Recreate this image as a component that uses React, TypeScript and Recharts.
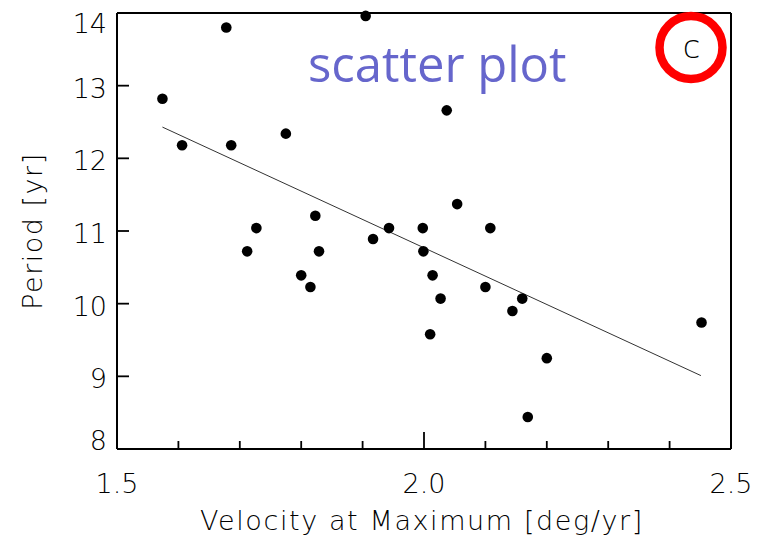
import React from 'react';
import { ScatterChart, Scatter, XAxis, YAxis, Label } from 'recharts';

// velocity at maximum [deg/yr] and period [yr] for each cycle
const velocity = [
  1.574, 1.606, 1.678, 1.686, 1.775, 1.905, 1.823, 1.727, 1.712, 1.829, 1.917, 1.8, 1.815, 2.037,
  2.054, 1.943, 1.998, 2.108, 1.999, 2.014, 2.027, 2.1, 2.16, 2.144, 2.01, 2.2, 2.169, 2.452,
];
const period = [
  12.82, 12.18, 13.8, 12.18, 12.34, 13.96, 11.21, 11.04, 10.72, 10.72, 10.89, 10.39, 10.23, 12.66,
  11.37, 11.04, 11.04, 11.04, 10.72, 10.39, 10.07, 10.23, 10.07, 9.9, 9.58, 9.25, 8.44, 9.74,
];

// least-squares fit line end points
const fitVelocity = [1.574, 2.451];
const fitPeriod = [12.43, 9.01];

const xTicks = [1.5, 1.6, 1.7, 1.8, 1.9, 2.0, 2.1, 2.2, 2.3, 2.4, 2.5];
const xLabelled = [1.5, 2.0, 2.5];
const yTicks = [8, 9, 10, 11, 12, 13, 14];

const points = velocity.map((v, i) => ({ v, p: period[i] }));
const fit = fitVelocity.map((v, i) => ({ v, p: fitPeriod[i] }));

const FONT = '"DejaVu Sans", sans-serif';
const INK = '#000';

const isMajor = (v: number) => xLabelled.some((m) => Math.abs(m - v) < 1e-6);

function BottomTick({ x, y, payload }: any) {
  const major = isMajor(payload.value);
  return (
    <g>
      <line x1={x} x2={x} y1={y} y2={y - (major ? 17 : 8)} stroke={INK} strokeWidth={1.8} />
      {major && (
        <text x={x} y={y + 44} textAnchor="middle" fontFamily={FONT} fontWeight={300} fontSize={27} fill={INK}>
          {Number(payload.value).toFixed(1)}
        </text>
      )}
    </g>
  );
}

function TopTick({ x, y, payload }: any) {
  const major = isMajor(payload.value);
  return <line x1={x} x2={x} y1={y} y2={y + (major ? 17 : 8)} stroke={INK} strokeWidth={1.8} />;
}

function LeftTick({ x, y, payload }: any) {
  const v = payload.value;
  // end labels are pulled inside the frame
  const dy = v === 14 ? 20 : v === 8 ? 1 : 12;
  return (
    <g>
      <line x1={x} x2={x + 12} y1={y} y2={y} stroke={INK} strokeWidth={1.8} />
      <text x={x - 10} y={y + dy} textAnchor="end" fontFamily={FONT} fontWeight={300} fontSize={27} fill={INK}>
        {v}
      </text>
    </g>
  );
}

function RightTick({ x, y }: any) {
  return <line x1={x} x2={x - 12} y1={y} y2={y} stroke={INK} strokeWidth={1.8} />;
}

const Dot = (p: any) => <circle cx={p.cx} cy={p.cy} r={5.3} fill={INK} />;
const NoDot = () => <g />;

export default function App() {
  return (
    <div style={{ position: 'absolute', left: 0, top: 0, width: 758, height: 540, background: '#fff' }}>
      <ScatterChart width={758} height={540} margin={{ top: 12, right: 26, bottom: 0, left: 0 }}>
        <XAxis
          dataKey="v"
          type="number"
          domain={[1.5, 2.5]}
          ticks={xTicks}
          interval={0}
          height={91}
          tickSize={0}
          tickMargin={0}
          tickLine={false}
          axisLine={{ stroke: INK, strokeWidth: 2 }}
          tick={(p: any) => <BottomTick {...p} />}
        >
          <Label
            content={(props: any) => {
              const vb = props.viewBox;
              return (
                <text
                  x={vb.x + vb.width / 2 - 2}
                  y={530}
                  textAnchor="middle"
                  fontFamily={FONT}
                  fontWeight={300}
                  fontSize={27}
                  letterSpacing={1.6}
                  fill={INK}
                >
                  Velocity at Maximum [deg/yr]
                </text>
              );
            }}
          />
        </XAxis>
        <XAxis
          xAxisId="top"
          orientation="top"
          dataKey="v"
          type="number"
          domain={[1.5, 2.5]}
          ticks={xTicks}
          interval={0}
          height={1}
          tickSize={0}
          tickMargin={0}
          tickLine={false}
          axisLine={{ stroke: INK, strokeWidth: 2 }}
          tick={(p: any) => <TopTick {...p} />}
        />
        <YAxis
          dataKey="p"
          type="number"
          domain={[8, 14]}
          ticks={yTicks}
          interval={0}
          width={117}
          tickSize={0}
          tickMargin={0}
          tickLine={false}
          axisLine={{ stroke: INK, strokeWidth: 2 }}
          tick={(p: any) => <LeftTick {...p} />}
        >
          <Label
            content={(props: any) => {
              const vb = props.viewBox;
              const cy = vb.y + vb.height / 2;
              return (
                <text
                  x={42}
                  y={cy}
                  transform={`rotate(-90, 42, ${cy})`}
                  textAnchor="middle"
                  fontFamily={FONT}
                  fontWeight={300}
                  fontSize={27}
                  letterSpacing={1.5}
                  fill={INK}
                >
                  Period [yr]
                </text>
              );
            }}
          />
        </YAxis>
        <YAxis
          yAxisId="right"
          orientation="right"
          dataKey="p"
          type="number"
          domain={[8, 14]}
          ticks={yTicks}
          interval={0}
          width={1}
          tickSize={0}
          tickMargin={0}
          tickLine={false}
          axisLine={{ stroke: INK, strokeWidth: 2 }}
          tick={(p: any) => <RightTick {...p} />}
        />
        <Scatter
          data={fit}
          line={{ stroke: '#333', strokeWidth: 1 }}
          shape={NoDot}
          isAnimationActive={false}
        />
        <Scatter data={points} shape={Dot} isAnimationActive={false} />
      </ScatterChart>
      <svg
        width={758}
        height={540}
        style={{ position: 'absolute', left: 0, top: 0, pointerEvents: 'none' }}
      >
        <text x={308} y={82} fontFamily='"Open Sans", sans-serif' fontSize={49} fill="#6666cc">
          scatter plot
        </text>
        <circle cx={691} cy={47.5} r={31.5} fill="none" stroke="#ff0000" strokeWidth={8.5} />
        <text x={691.5} y={58} textAnchor="middle" fontFamily={FONT} fontWeight={300} fontSize={32} fill={INK}>
          c
        </text>
      </svg>
    </div>
  );
}
